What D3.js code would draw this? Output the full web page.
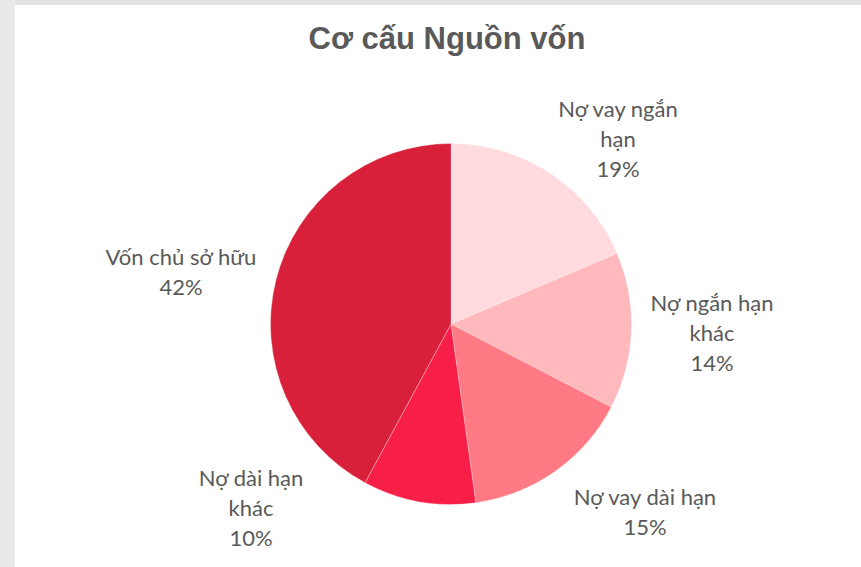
<!DOCTYPE html>
<html><head><meta charset="utf-8">
<script src="https://cdn.jsdelivr.net/npm/d3@7"></script>
<style>html,body{margin:0;padding:0;background:#fff;}svg{display:block;}</style>
</head><body>
<script>
const categories = ["Nợ vay ngắn hạn", "Nợ ngắn hạn khác", "Nợ vay dài hạn", "Nợ dài hạn khác", "Vốn chủ sở hữu"];
const values = [18.6, 14.0, 15.2, 10.1, 42.1];
const colors = ["#FFDBE0", "#FFB8BB", "#FF7A84", "#F71F47", "#D8203B"];
const labelLines = [["Nợ vay ngắn", "hạn"], ["Nợ ngắn hạn", "khác"], ["Nợ vay dài hạn"], ["Nợ dài hạn", "khác"], ["Vốn chủ sở hữu"]];
const labelPos = [[618, 108], [712, 302], [645, 496], [251, 477], [181, 256]];
const title = "Cơ cấu Nguồn vốn";

const W = 861, H = 567, cx = 451, cy = 324, R = 180.5;
const svg = d3.select("body").append("svg").attr("width", W).attr("height", H);

// frame
svg.append("rect").attr("x", 0).attr("y", 0).attr("width", W).attr("height", 5).attr("fill", "#e3e3e3");
svg.append("rect").attr("x", 0).attr("y", 0).attr("width", 15).attr("height", H).attr("fill", "#e9e9e9");

svg.append("text").attr("x", 447).attr("y", 38).attr("text-anchor", "middle").attr("dominant-baseline", "central")
  .attr("font-family", "Liberation Sans, Arial, sans-serif").attr("font-weight", "bold").attr("font-size", 31)
  .attr("fill", "#595959").text(title);

const pie = d3.pie().sort(null).value(d => d)(values);
const arc = d3.arc().innerRadius(0).outerRadius(R);
const g = svg.append("g").attr("transform", `translate(${cx},${cy})`);
g.selectAll("path").data(pie).join("path").attr("d", arc)
  .attr("fill", (d, i) => colors[i]).attr("stroke", "#ffffff").attr("stroke-width", 0.6).attr("stroke-opacity", 0.5);

const total = d3.sum(values);
const lh = 30;
labelLines.forEach((lines, i) => {
  const all = lines.concat([Math.round(values[i] / total * 100) + "%"]);
  const t = svg.append("text").attr("text-anchor", "middle")
    .attr("font-family", "Lato, 'Open Sans', sans-serif").attr("font-size", 22).attr("fill", "#595959");
  all.forEach((s, k) => {
    t.append("tspan").attr("x", labelPos[i][0]).attr("y", labelPos[i][1] + k * lh)
      .attr("dominant-baseline", "central").text(s);
  });
});
</script>
</body></html>
